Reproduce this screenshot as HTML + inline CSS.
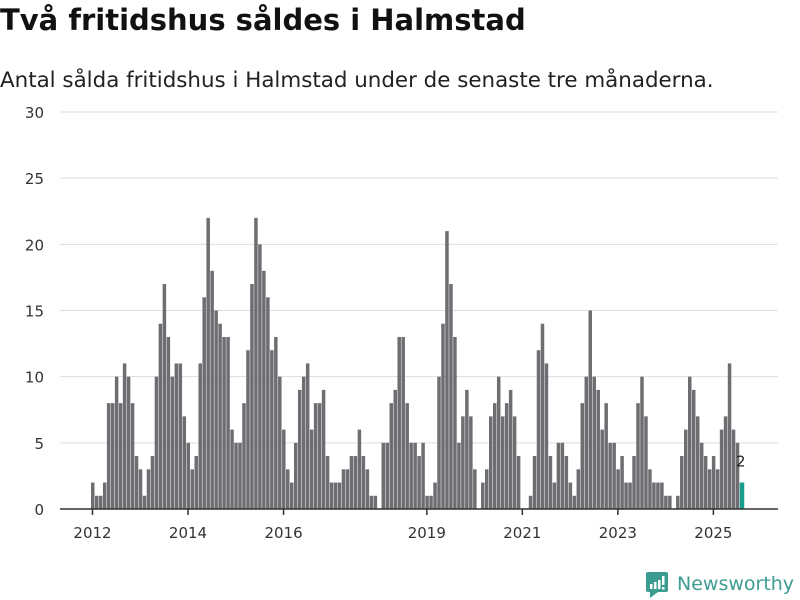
<!DOCTYPE html>
<html><head><meta charset="utf-8">
<style>
body{margin:0;background:#fff;width:800px;height:600px;overflow:hidden;font-family:"DejaVu Sans","Liberation Sans",sans-serif;}
#title{position:absolute;left:0;top:3px;font-size:29px;font-weight:bold;color:#111;margin:0;white-space:nowrap;font-family:"DejaVu Sans","Liberation Sans",sans-serif;}
#sub{position:absolute;left:0;top:68px;font-size:21.4px;color:#222;white-space:nowrap;}
svg{position:absolute;left:0;top:0;}
</style></head><body>
<h1 id="title">Två fritidshus såldes i Halmstad</h1>
<div id="sub">Antal sålda fritidshus i Halmstad under de senaste tre månaderna.</div>
<svg id="chart" width="800" height="600"></svg>
<script>
const values2012 = [2,1,1,2,8,8,10,8,11,10,8,4];
const values2013 = [3,1,3,4,10,14,17,13,10,11,11,7];
const values2014 = [5,3,4,11,16,22,18,15,14,13,13,6];
const values2015 = [5,5,8,12,17,22,20,18,16,12,13,10];
const values2016 = [6,3,2,5,9,10,11,6,8,8,9,4];
const values2017 = [2,2,2,3,3,4,4,6,4,3,1,1];
const values2018 = [0,5,5,8,9,13,13,8,5,5,4,5];
const values2019 = [1,1,2,10,14,21,17,13,5,7,9,7];
const values2020 = [3,0,2,3,7,8,10,7,8,9,7,4];
const values2021 = [0,0,1,4,12,14,11,4,2,5,5,4];
const values2022 = [2,1,3,8,10,15,10,9,6,8,5,5];
const values2023 = [3,4,2,2,4,8,10,7,3,2,2,2];
const values2024 = [1,1,0,1,4,6,10,9,7,5,4,3];
const values2025 = [4,3,6,7,11,6,5,2];
const values = [].concat(values2012,values2013,values2014,values2015,values2016,values2017,values2018,values2019,values2020,values2021,values2022,values2023,values2024,values2025);
const startYear = 2012;
const yTicks = [0,5,10,15,20,25,30];
const xTickYears = [2012,2014,2016,2019,2021,2023,2025];

const NS="http://www.w3.org/2000/svg";
const svg=document.getElementById('chart');
const plotL=60, plotR=778, y0=509, y30=112;
const step=3.98, bx0=91, bw=3.5;
const FF='DejaVu Sans, Liberation Sans, sans-serif';
function y(v){return y0-(v/30)*(y0-y30);}
function x(i){return bx0+i*step;}
function mk(t,a){const e=document.createElementNS(NS,t);for(const k in a)e.setAttribute(k,a[k]);svg.appendChild(e);return e;}

yTicks.forEach(t=>{
  const g=mk('line',{x1:plotL,x2:plotR,y1:y(t),y2:y(t),stroke:'#dddddd','stroke-width':1});
  
  
  const l=mk('text',{x:44,y:y(t)+6,'text-anchor':'end','font-size':15,fill:'#333','font-family':FF});
  l.textContent=t;
  
  
});

values.forEach((v,i)=>{
  const last=i===values.length-1;
  const r=mk('rect',{x:x(i),y:y(v),width:last?4.5:bw,height:y0-y(v),fill:last?'#1a9c8c':'#6e6d72'});
  
  
  if(last){
    const t=mk('text',{x:x(i)+1,y:y(v)-16,'text-anchor':'middle','font-size':15,fill:'#222','font-family':FF});
    t.textContent=v;
    
    
  }
});

const ax=mk('line',{x1:plotL,x2:plotR,y1:y0,y2:y0,stroke:'#333','stroke-width':1.5});



xTickYears.forEach(yr=>{
  const i=(yr-startYear)*12;
  const tx=x(i)+1.5;
  const tk=mk('line',{x1:tx,x2:tx,y1:y0,y2:y0+6,stroke:'#333','stroke-width':1.5});
  
  
  const l=mk('text',{x:tx,y:538,'text-anchor':'middle','font-size':15,fill:'#333','font-family':FF});
  l.textContent=yr;
  
  
});
</script>
<svg width="800" height="600" style="pointer-events:none">
  <g>
    <rect x="646" y="572" width="22" height="20" rx="2" fill="#3d9c91"/>
    <polygon points="650,592 658,592 650,598" fill="#3d9c91"/>
    <rect x="650" y="584" width="2.5" height="5" fill="#fff"/>
    <rect x="654" y="582" width="2.5" height="7" fill="#fff"/>
    <rect x="658" y="580" width="2.5" height="9" fill="#fff"/>
    <rect x="662" y="576" width="2.5" height="9" fill="#fff"/>
    <rect x="662" y="587" width="2.5" height="2.5" fill="#fff"/>
  </g>
  <text x="677" y="590" font-size="19" fill="#3d9c91" font-family="DejaVu Sans, Liberation Sans, sans-serif">Newsworthy</text>
</svg>
</body></html>
